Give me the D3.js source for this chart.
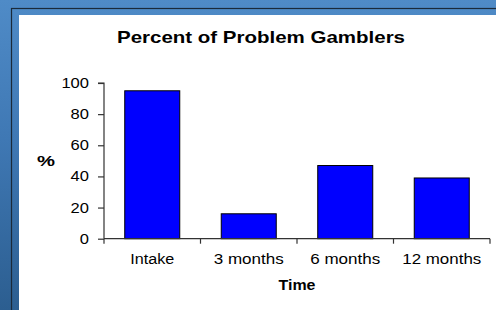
<!DOCTYPE html>
<html><head><meta charset="utf-8">
<script src="https://cdn.jsdelivr.net/npm/d3@7"></script>
<style>html,body{margin:0;padding:0;overflow:hidden;background:#3a70a8}</style>
</head><body>
<script>
const categories = ["Intake", "3 months", "6 months", "12 months"];
const values = [95, 16, 47, 39];
const yTicks = [0, 20, 40, 60, 80, 100];
const title = "Percent of Problem Gamblers";
const xTitle = "Time";
const yTitle = "%";

const W = 496, H = 310;
const svg = d3.select("body").append("svg").attr("width", W).attr("height", H);
const defs = svg.append("defs");
const g1 = defs.append("linearGradient").attr("id","bg").attr("x1",0).attr("y1",0).attr("x2",0).attr("y2",1);
g1.append("stop").attr("offset","0%").attr("stop-color","#4f8bc7");
g1.append("stop").attr("offset","45%").attr("stop-color","#3f78b4");
g1.append("stop").attr("offset","100%").attr("stop-color","#2c5e90");
svg.append("rect").attr("width",W).attr("height",H).attr("fill","url(#bg)");
// frame
svg.append("rect").attr("x",11.5).attr("y",8.5).attr("width",W).attr("height",H).attr("fill","none").attr("stroke","#1a2a3a").attr("stroke-width",1.2);
svg.append("rect").attr("x",19).attr("y",15).attr("width",W).attr("height",H).attr("fill","#ffffff");

const x0 = 104, x1 = 490, yTop = 83, yBot = 238.7;
const x = d3.scaleBand().domain(categories).range([x0, x1]).paddingInner(0.43).paddingOuter(0.215);
const xb = d3.scaleBand().domain(categories).range([x0, x1]);
const y = d3.scaleLinear().domain([0, 100]).range([yBot, yTop]);

const font = "Liberation Sans, Arial, sans-serif";

// bars
svg.selectAll("rect.bar").data(values).enter().append("rect").attr("class","bar")
  .attr("x",(d,i)=>x(categories[i])).attr("width",x.bandwidth())
  .attr("y",d=>y(d)).attr("height",d=>y(0)-y(d))
  .attr("fill","#0000ff").attr("stroke","#000").attr("stroke-width",1);

// y axis
const ya = svg.append("g").attr("transform",`translate(${x0},0)`)
  .call(d3.axisLeft(y).tickValues(yTicks).tickSize(6).tickPadding(9));
ya.select(".domain").attr("stroke","#333").attr("stroke-width",1.2).attr("d",`M-6,${yTop}H0V${yBot}`);
ya.selectAll(".tick line").attr("stroke","#333").attr("stroke-width",1.2);
ya.selectAll(".tick text").attr("font-family",font).attr("font-size",14).attr("fill","#000")
  .attr("textLength",d=>String(d).length*9.2).attr("lengthAdjust","spacingAndGlyphs");

// x axis
const xa = svg.append("g").attr("transform",`translate(0,${yBot})`);
xa.append("path").attr("d",`M${x0},0H${x1}`).attr("stroke","#333").attr("stroke-width",1.2);
const edges = categories.map(c=>xb(c)).concat([x1]);
xa.selectAll("line.t").data(edges).enter().append("line")
  .attr("x1",d=>d).attr("x2",d=>d).attr("y1",0).attr("y2",5).attr("stroke","#333").attr("stroke-width",1.2);
const xLabW = {"Intake":44,"3 months":70,"6 months":70,"12 months":79};
xa.selectAll("text").data(categories).enter().append("text")
  .attr("x",c=>xb(c)+xb.bandwidth()/2).attr("y",25.5).attr("text-anchor","middle")
  .attr("font-family",font).attr("font-size",14).attr("fill","#000")
  .attr("textLength",c=>xLabW[c]).attr("lengthAdjust","spacingAndGlyphs").text(c=>c);

// titles
svg.append("text").attr("x",261).attr("y",43.3).attr("text-anchor","middle")
  .attr("font-family",font).attr("font-weight","bold").attr("font-size",17)
  .attr("textLength",288).attr("lengthAdjust","spacingAndGlyphs").text(title);
svg.append("text").attr("x",(x0+x1)/2).attr("y",290).attr("text-anchor","middle")
  .attr("font-family",font).attr("font-weight","bold").attr("font-size",14)
  .attr("textLength",37).attr("lengthAdjust","spacingAndGlyphs").text(xTitle);
svg.append("text").attr("x",46).attr("y",166).attr("text-anchor","middle")
  .attr("font-family",font).attr("font-weight","bold").attr("font-size",15)
  .attr("textLength",18).attr("lengthAdjust","spacingAndGlyphs").text(yTitle);
</script>
</body></html>
